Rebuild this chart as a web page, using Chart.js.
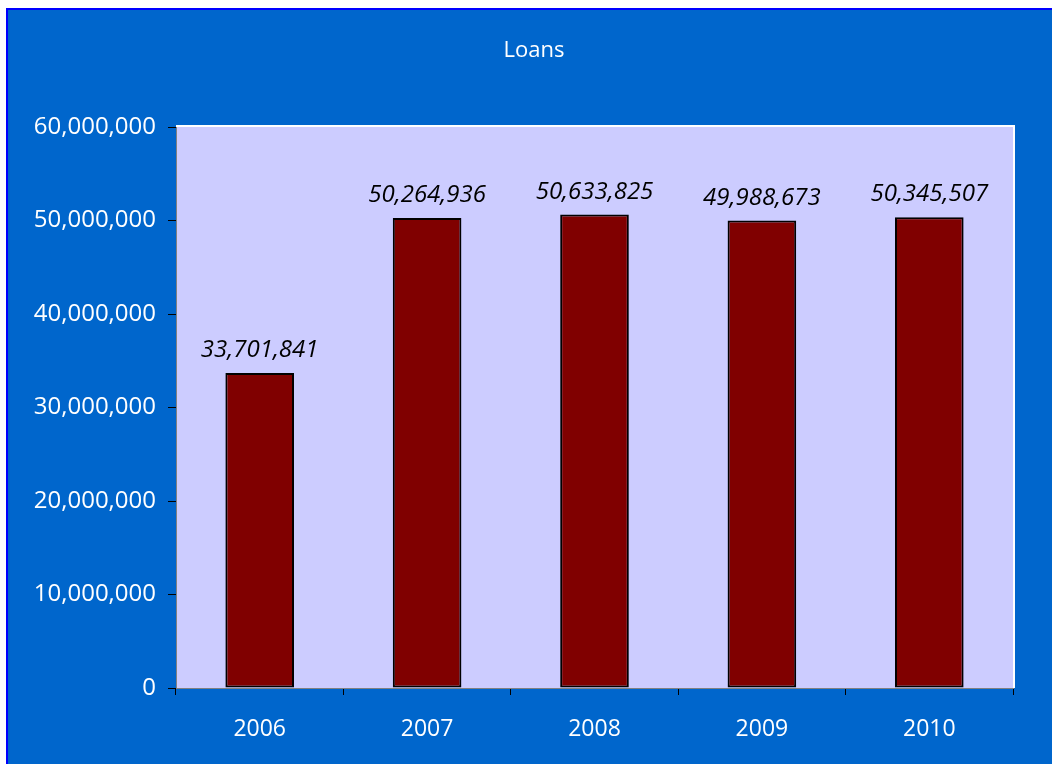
<!DOCTYPE html>
<html>
<head>
<meta charset="utf-8">
<title>Loans</title>
<script src="https://cdn.jsdelivr.net/npm/chart.js@4/dist/chart.umd.min.js"></script>
<style>
  html, body { margin: 0; padding: 0; background: #fff; overflow: hidden; }
  #wrap { width: 1052px; height: 764px; }
  #loans { display: block; }
</style>
</head>
<body>
<div id="wrap"><canvas id="loans" width="1052" height="764"></canvas></div>
<script>
const years = ["2006", "2007", "2008", "2009", "2010"]
const loans = [33701841, 50264936, 50633825, 49988673, 50345507]
const yTicks = [0, 10000000, 20000000, 30000000, 40000000, 50000000, 60000000]

const FONT = "'Open Sans', 'Noto Sans', sans-serif"
const COLORS = {
  frame: "#0000FF",
  back: "#0066CC",
  plot: "#CCCCFF",
  bar: "#800000",
}

const fmt = (v) => v.toLocaleString("en-US")

// outer frame, plot background and the title
const backdrop = {
  id: "backdrop",
  beforeDraw(chart) {
    const { ctx, width, height, chartArea: a } = chart
    ctx.save()
    ctx.fillStyle = "#fff"
    ctx.fillRect(0, 0, width, height)
    ctx.fillStyle = COLORS.frame
    ctx.fillRect(6, 8, width, height)
    ctx.fillStyle = COLORS.back
    ctx.fillRect(8, 10, width, height)
    ctx.fillStyle = "#fff"
    ctx.fillRect(a.left, a.top - 2, a.right - a.left + 2, 2)
    ctx.fillRect(a.right, a.top - 2, 2, a.bottom - a.top + 2)
    ctx.fillStyle = COLORS.plot
    ctx.fillRect(a.left, a.top, a.right - a.left, a.bottom - a.top)
    ctx.restore()
  },
  afterDraw(chart) {
    const { ctx } = chart
    ctx.save()
    ctx.fillStyle = "#fff"
    ctx.font = "22px " + FONT
    ctx.textAlign = "center"
    ctx.textBaseline = "middle"
    ctx.fillText("Loans", 534, 51)
    ctx.restore()
  },
}

// value written above each bar
const barValues = {
  id: "barValues",
  afterDatasetsDraw(chart) {
    const { ctx } = chart
    const meta = chart.getDatasetMeta(0)
    ctx.save()
    ctx.fillStyle = "#000"
    ctx.font = "italic 24px " + FONT
    ctx.textAlign = "center"
    ctx.textBaseline = "alphabetic"
    meta.data.forEach((bar, i) => {
      ctx.fillText(fmt(loans[i]), bar.x, bar.y - 16)
    })
    ctx.restore()
  },
}

const config = {
  type: "bar",
  data: {
    labels: years,
    datasets: [
      {
        data: loans,
        backgroundColor: COLORS.bar,
        borderColor: "#000",
        borderWidth: 2,
        borderSkipped: false,
        categoryPercentage: 1,
        barPercentage: 0.41,
      },
    ],
  },
  options: {
    responsive: false,
    animation: false,
    layout: {
      padding: { top: 127, right: 39, bottom: 0, left: 0 },
    },
    scales: {
      x: {
        afterFit: (scale) => { scale.height = 76 },
        grid: {
          offset: true,
          drawOnChartArea: false,
          tickLength: 7,
          tickColor: "#000",
        },
        border: { color: "#808080", width: 1 },
        ticks: {
          color: "#fff",
          font: { family: FONT, size: 23 },
          padding: 21,
        },
      },
      y: {
        min: 0,
        max: 60000000,
        afterFit: (scale) => { scale.width = 176 },
        afterBuildTicks: (scale) => {
          scale.ticks = yTicks.map((v) => ({ value: v }))
        },
        grid: {
          drawOnChartArea: false,
          tickLength: 8,
          tickColor: "#000",
        },
        border: { color: "#808080", width: 1 },
        ticks: {
          color: "#fff",
          font: { family: FONT, size: 24 },
          padding: 12,
          callback: (v) => fmt(v),
        },
      },
    },
    plugins: {
      legend: { display: false },
      tooltip: { enabled: false },
    },
  },
  plugins: [backdrop, barValues],
}

new Chart(document.getElementById("loans"), config)
</script>
</body>
</html>
